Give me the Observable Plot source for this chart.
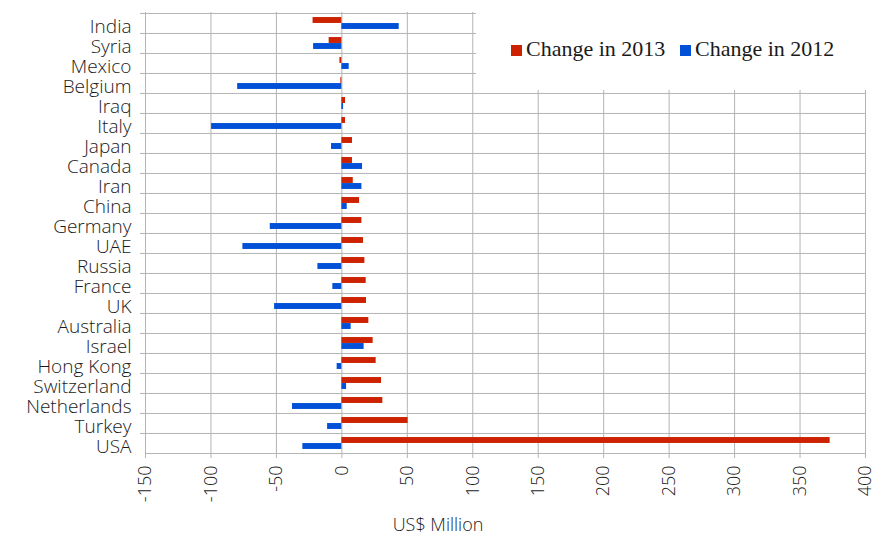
<!DOCTYPE html>
<html>
<head>
<meta charset="utf-8">
<script src="https://cdn.jsdelivr.net/npm/d3@7"></script>
<script src="https://cdn.jsdelivr.net/npm/@observablehq/plot@0.6"></script>
<style>
  html, body { margin: 0; padding: 0; background: #fff; }
  #chart { position: relative; width: 885px; height: 537px; overflow: hidden; }
  #chart svg text { font-weight: 300; }
  #legend {
    position: absolute; left: 476px; top: 10px; width: 400px; height: 80px;
    background: #fff; font-family: "Liberation Serif", serif; font-size: 22px; color: #1a1a1a;
  }
  #legend .item { position: absolute; top: 26px; display: flex; align-items: center; white-space: nowrap; }
  #legend .swatch { width: 11px; height: 11px; margin-right: 4px; margin-top: 2px; }
  #xtitle {
    position: absolute; left: 0; width: 876px; top: 512px; text-align: center;
    font-family: "Open Sans", sans-serif; font-weight: 300; font-size: 18px; color: #1a1a1a;
  }
</style>
</head>
<body>
<div id="chart"></div>
<script>
// Countries, top to bottom
const countries = ["India", "Syria", "Mexico", "Belgium", "Iraq", "Italy", "Japan", "Canada", "Iran", "China",
  "Germany", "UAE", "Russia", "France", "UK", "Australia", "Israel", "Hong Kong", "Switzerland",
  "Netherlands", "Turkey", "USA"];

// Year-on-year change, US$ million
const change2013 = [-22, -9.7, -1.5, -0.8, 2.8, 2.8, 8.1, 8.1, 8.7, 13.5,
  15.3, 16.5, 17.6, 18.6, 18.8, 20.6, 23.9, 26.2, 30.3,
  31.3, 50.6, 373];
const change2012 = [43.8, -21.6, 5.6, -79.6, 1.3, -99.5, -7.9, 15.8, 15.3, 4.1,
  -54.7, -75.6, -18.3, -6.9, -51.4, 7.1, 17.0, -3.6, 3.6,
  -37.7, -10.9, -29.8];

const seriesNames = ["Change in 2013", "Change in 2012"];
const xTicks = [-150, -100, -50, 0, 50, 100, 150, 200, 250, 300, 350, 400];
const xTitle = "US$ Million";

const red = "#cc2200";
const blue = "#0050d8";
const grid = "#b4b4b4";
const ink = "#1a1a1a";

const W = 885, H = 537, mt = 12, mb = 83, ml = 145, mr = 20;
const bw = (H - mt - mb) / countries.length; // band height per country
const barH = 6;

const rows = countries.map((c, i) => ({country: c, v2013: change2013[i], v2012: change2012[i]}));

const chart = Plot.plot({
  width: W,
  height: H,
  marginTop: mt,
  marginBottom: mb,
  marginLeft: ml,
  marginRight: mr,
  style: {fontFamily: "'Open Sans', sans-serif", color: ink, background: "#fff", overflow: "visible"},
  x: {domain: [xTicks[0], xTicks[xTicks.length - 1]]},
  y: {domain: countries, padding: 0},
  marks: [
    Plot.gridX(xTicks, {stroke: grid, strokeOpacity: 1}),
    // band boundaries, with a short tick left of the axis
    Plot.ruleY(countries, {y: d => d, dy: -bw / 2, stroke: grid, insetLeft: -5}),
    Plot.ruleY(countries.slice(-1), {y: d => d, dy: bw / 2, stroke: grid}),
    Plot.barX(rows, {y: "country", x: "v2013", fill: red, insetTop: bw / 2 - barH, insetBottom: bw / 2}),
    Plot.barX(rows, {y: "country", x: "v2012", fill: blue, insetTop: bw / 2, insetBottom: bw / 2 - barH}),
    Plot.axisY({tickSize: 0, tickPadding: 14, fontSize: 19, dy: 3, label: null, fill: ink}),
    Plot.axisX(xTicks, {tickRotate: -90, tickSize: 4, tickPadding: 7, fontSize: 18, label: null,
      stroke: grid, fill: ink, tickFormat: d => `${d}`})
  ]
});

const root = document.getElementById("chart");
root.appendChild(chart);

// Legend overlay in the top-right corner of the plot area
const legend = document.createElement("div");
legend.id = "legend";
const colors = [red, blue];
const lefts = [35, 204];
seriesNames.forEach((name, i) => {
  const item = document.createElement("div");
  item.className = "item";
  item.style.left = lefts[i] + "px";
  const sw = document.createElement("span");
  sw.className = "swatch";
  sw.style.background = colors[i];
  const tx = document.createElement("span");
  tx.textContent = name;
  item.appendChild(sw);
  item.appendChild(tx);
  legend.appendChild(item);
});
root.appendChild(legend);

const title = document.createElement("div");
title.id = "xtitle";
title.textContent = xTitle;
root.appendChild(title);
</script>
</body>
</html>
